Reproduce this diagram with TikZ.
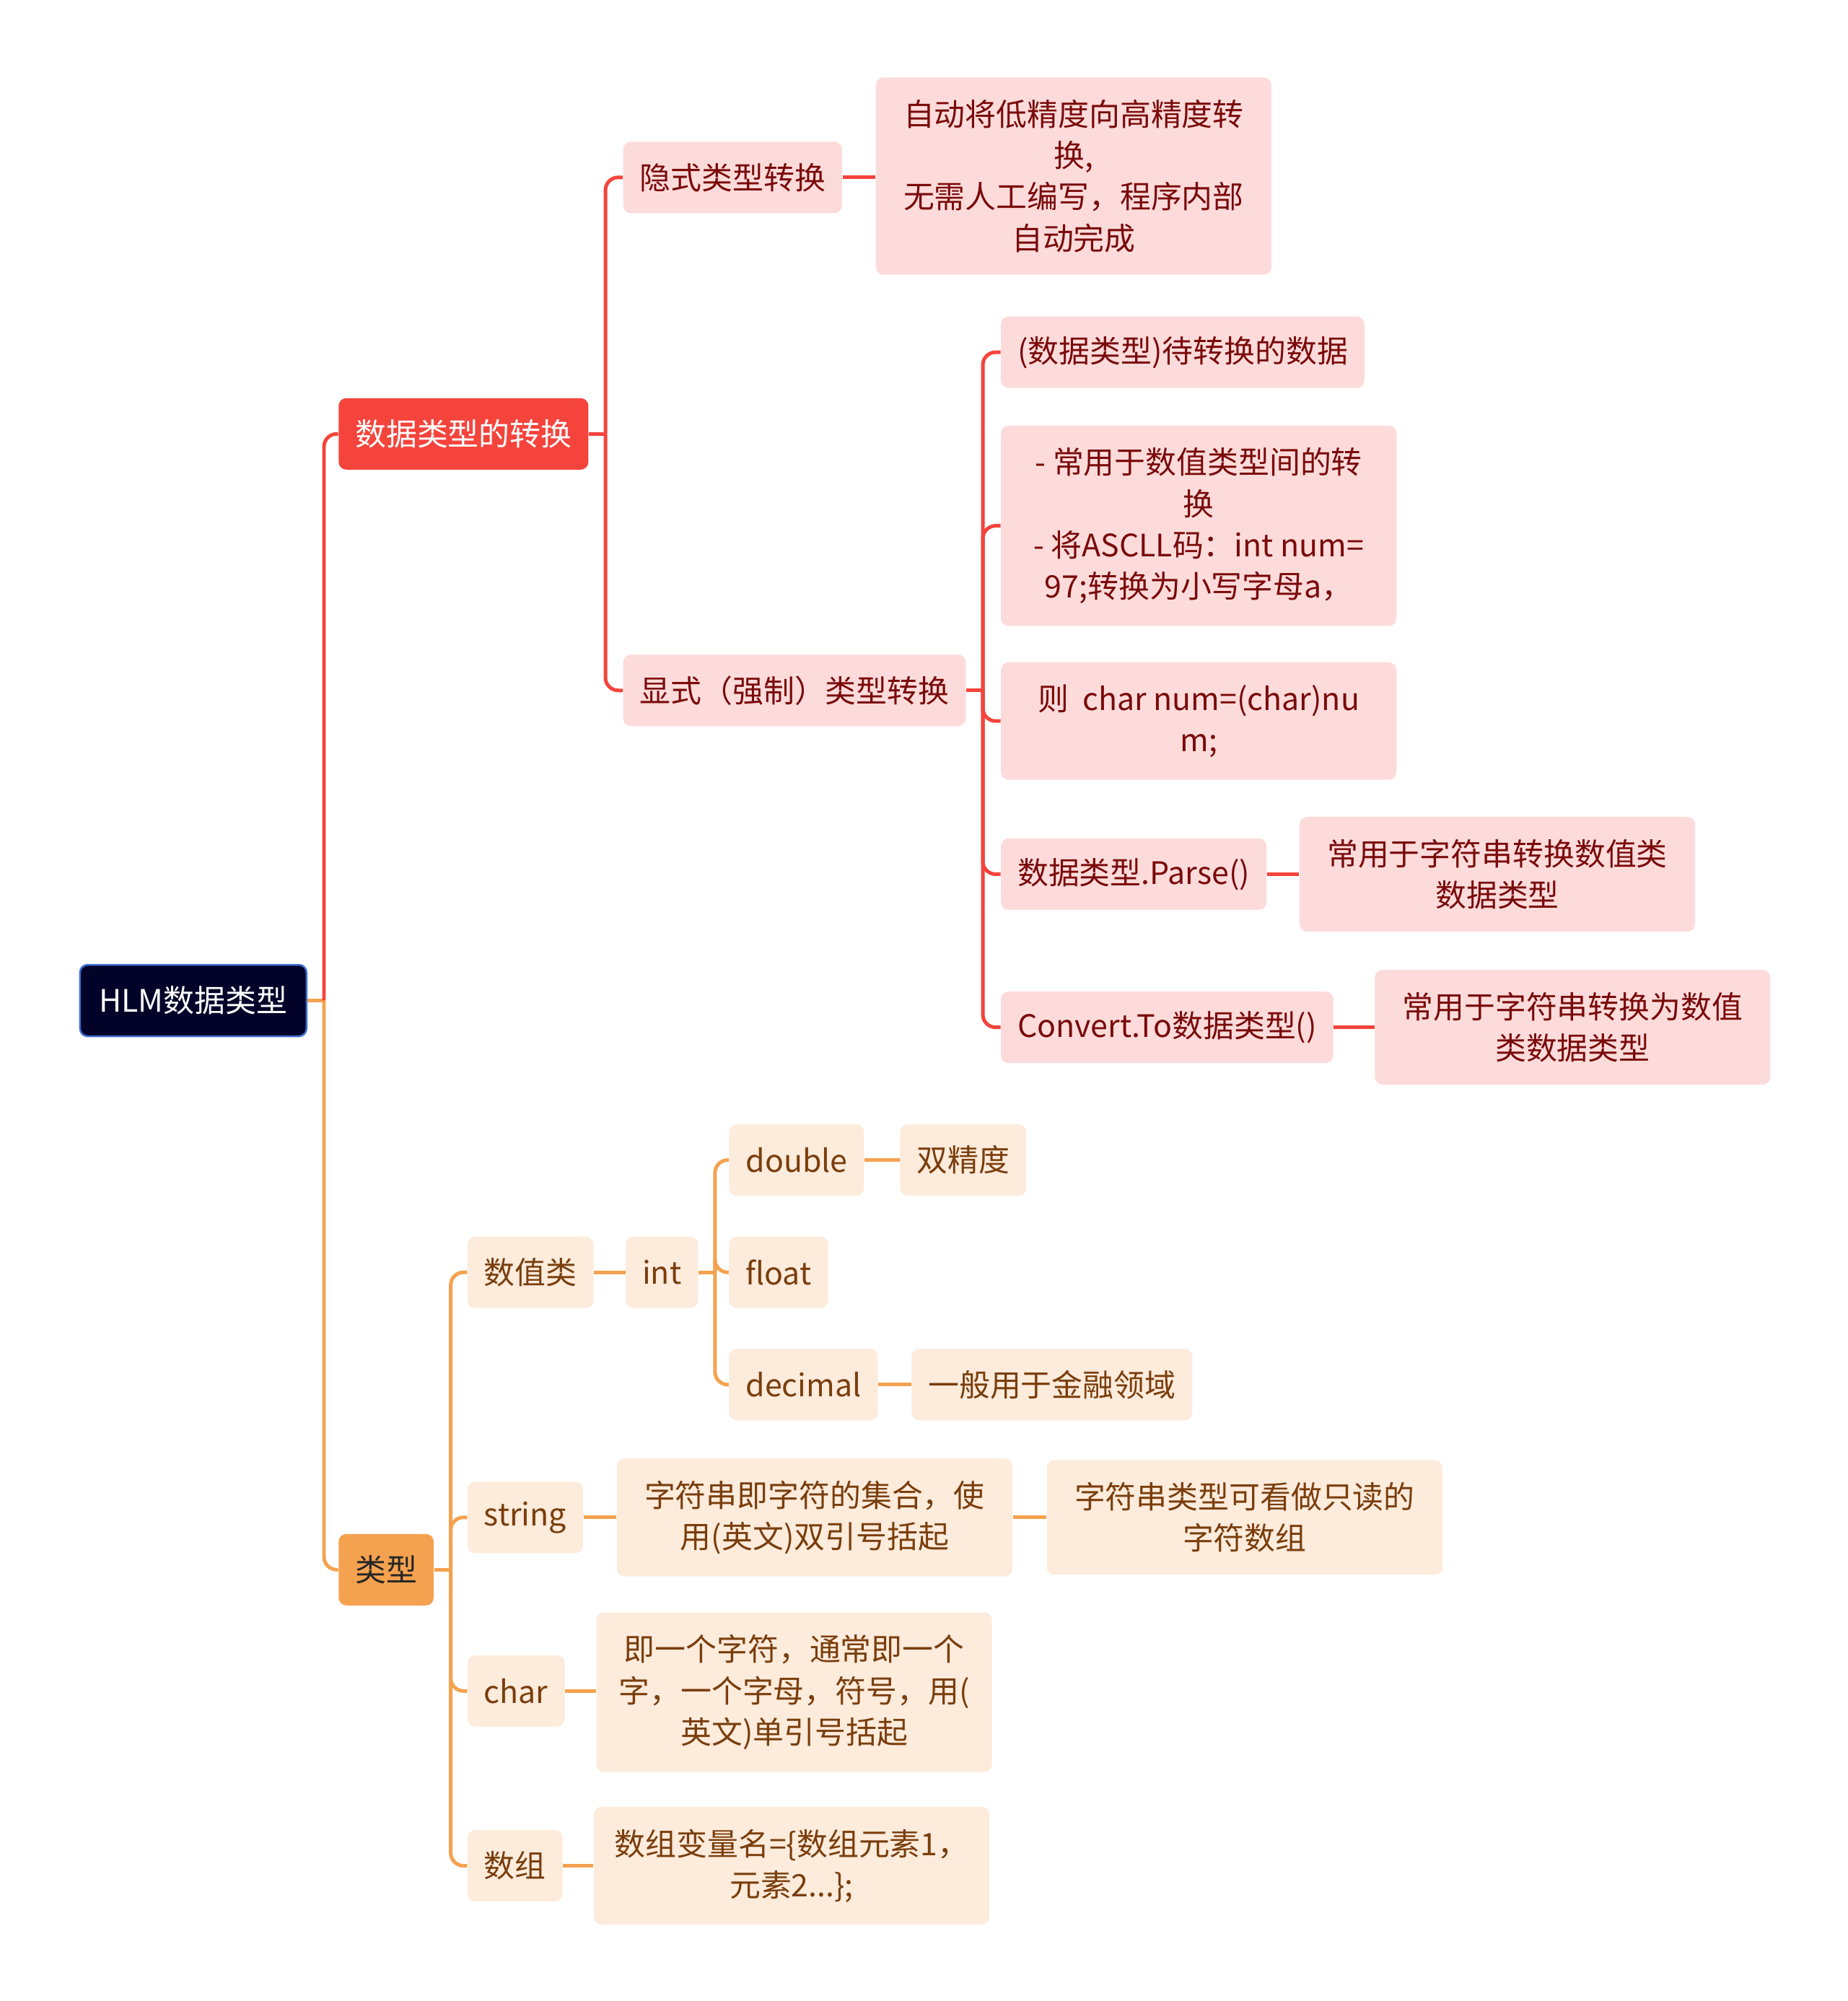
\documentclass[tikz,border=0pt]{standalone}
\usepackage{fontspec}
\setmainfont{Noto Sans CJK SC}

\definecolor{rootblue}{HTML}{03032A}
\definecolor{rootedge}{HTML}{3D6FD2}
\definecolor{convred}{HTML}{F4443C}
\definecolor{convpink}{HTML}{FDDBDB}
\definecolor{convtext}{HTML}{7A0A0A}
\definecolor{typeorange}{HTML}{F4A24F}
\definecolor{typepeach}{HTML}{FDEBDC}
\definecolor{typetext}{HTML}{7A3E0C}

\tikzset{
	base/.style={rounded corners=0.12cm, inner xsep=0.26cm, inner ysep=0.25cm, minimum height=1.12cm, align=center, anchor=west, font=\fontsize{13.8pt}{18.4pt}\selectfont},
	rootbox/.style={base, inner xsep=0.3cm, fill=rootblue, draw=rootedge, line width=0.8pt, text=white},
	redbox/.style={base, fill=convred, text=white},
	pinkbox/.style={base, fill=convpink, text=convtext},
	pinknote/.style={pinkbox, minimum width=6.2cm, inner ysep=0.35cm},
	orangebox/.style={base, fill=typeorange, text=black!85},
	peachbox/.style={base, fill=typepeach, text=typetext},
	peachnote/.style={peachbox, minimum width=6.2cm, inner ysep=0.35cm},
	redline/.style={draw=convred, line width=1.6pt, rounded corners=0.2cm},
	orangeline/.style={draw=typeorange, line width=1.6pt, rounded corners=0.2cm}
}

\begin{document}
\begin{tikzpicture}[x=0.02cm, y=-0.02cm]
	\useasboundingbox (0,0) rectangle (1448,1568);

	% main branches
	\node[rootbox] (root) at (62,784) {HLM数据类型};
	\node[redbox] (conv) at (265,340) {数据类型的转换};
	\node[orangebox] (types) at (265,1230) {类型};

	% conversion
	\node[pinkbox] (implicit) at (488,139) {隐式类型转换};
	\node[pinknote] (implicitnote) at (686,138) {自动将低精度向高精度转\\换,\\无需人工编写，程序内部\\自动完成};
	\node[pinkbox] (explicit) at (488,541) {显式（强制）类型转换};
	\node[pinkbox] (castform) at (784,276) {(数据类型)待转换的数据};
	\node[pinknote] (castnote) at (784,412) {- 常用于数值类型间的转\\换\\- 将ASCLL码：int num=\\97;转换为小写字母a，};
	\node[pinknote] (castexample) at (784,565) {则~~char num=(char)nu\\m;};
	\node[pinkbox] (parse) at (784,685) {数据类型.Parse()};
	\node[pinknote] (parsenote) at (1018,685) {常用于字符串转换数值类\\数据类型};
	\node[pinkbox] (convert) at (784,805) {Convert.To数据类型()};
	\node[pinknote] (convertnote) at (1077,805) {常用于字符串转换为数值\\类数据类型};

	% types
	\node[peachbox] (numeric) at (366,997) {数值类};
	\node[peachbox] (int) at (490,997) {int};
	\node[peachbox] (double) at (571,909) {double};
	\node[peachbox] (doublenote) at (705,909) {双精度};
	\node[peachbox] (float) at (571,997) {float};
	\node[peachbox] (decimal) at (571,1085) {decimal};
	\node[peachbox] (decimalnote) at (714,1085) {一般用于金融领域};
	\node[peachbox] (string) at (366,1189) {string};
	\node[peachnote] (stringnote) at (483,1189) {字符串即字符的集合，使\\用(英文)双引号括起};
	\node[peachnote] (stringmore) at (820,1189) {字符串类型可看做只读的\\字符数组};
	\node[peachbox] (char) at (366,1325) {char};
	\node[peachnote] (charnote) at (467,1326) {即一个字符，通常即一个\\字，一个字母，符号，用(\\英文)单引号括起};
	\node[peachbox] (array) at (366,1462) {数组};
	\node[peachnote] (arraynote) at (465,1462) {数组变量名=\{数组元素1，\\元素2...\};};

	% spines
	\draw[orangeline] (root.east) -- ++(13,0) coordinate (rs);
	\draw[redline] (rs) |- (conv.west);
	\draw[orangeline] (rs) |- (types.west);

	\draw[redline] (conv.east) -- ++(13,0) coordinate (cs);
	\foreach \c in {implicit,explicit} \draw[redline] (cs) |- (\c.west);

	\draw[redline] (explicit.east) -- ++(13,0) coordinate (es);
	\foreach \c in {castform,castnote,castexample,parse,convert} \draw[redline] (es) |- (\c.west);

	\draw[orangeline] (types.east) -- ++(13,0) coordinate (ts);
	\foreach \c in {numeric,string,char,array} \draw[orangeline] (ts) |- (\c.west);

	\draw[orangeline] (int.east) -- ++(13,0) coordinate (is);
	\foreach \c in {double,float,decimal} \draw[orangeline] (is) |- (\c.west);

	% leaves
	\draw[redline] (implicit.east) -- (implicit.east -| implicitnote.west);
	\draw[redline] (parse.east) -- (parse.east -| parsenote.west);
	\draw[redline] (convert.east) -- (convert.east -| convertnote.west);
	\draw[orangeline] (numeric.east) -- (numeric.east -| int.west);
	\draw[orangeline] (double.east) -- (double.east -| doublenote.west);
	\draw[orangeline] (decimal.east) -- (decimal.east -| decimalnote.west);
	\draw[orangeline] (string.east) -- (string.east -| stringnote.west);
	\draw[orangeline] (stringnote.east) -- (stringnote.east -| stringmore.west);
	\draw[orangeline] (char.east) -- (char.east -| charnote.west);
	\draw[orangeline] (array.east) -- (array.east -| arraynote.west);
\end{tikzpicture}
\end{document}
